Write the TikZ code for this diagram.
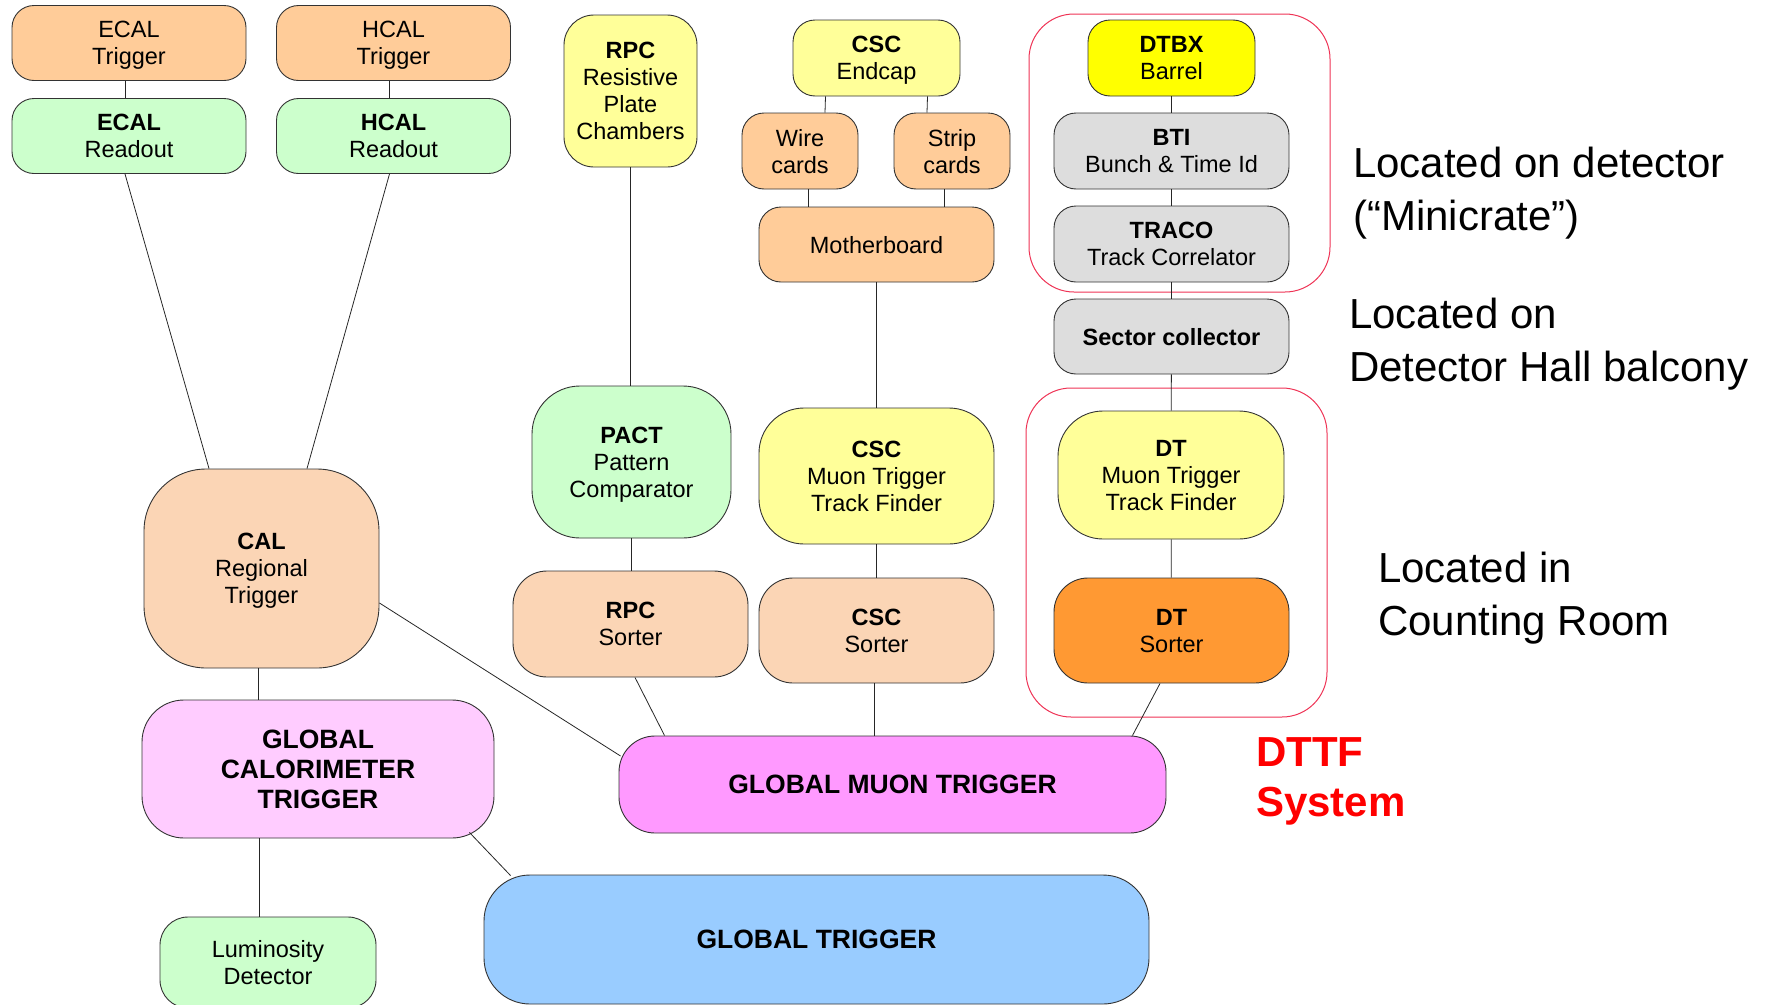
\documentclass[tikz,border=0pt]{standalone}
\usepackage{fontspec}
\setmainfont{Liberation Sans}
\usetikzlibrary{calc}
\definecolor{peach}{HTML}{FFCC99}
\definecolor{lightpeach}{HTML}{FBD5B5}
\definecolor{mint}{HTML}{CCFFCC}
\definecolor{paleyellow}{HTML}{FFFF99}
\definecolor{brightyellow}{HTML}{FFFF00}
\definecolor{lightgrey}{HTML}{DDDDDD}
\definecolor{dtorange}{HTML}{FF9933}
\definecolor{palepink}{HTML}{FFCCFF}
\definecolor{pink}{HTML}{FF99FF}
\definecolor{skyblue}{HTML}{99CCFF}
\definecolor{framered}{HTML}{EE3355}
\begin{document}
\begin{tikzpicture}[x=1pt, y=-1pt,
    box/.style={draw=black!80, line width=0.9pt, rounded corners=22pt,
        align=center, inner sep=0pt, text depth=0pt,
        font=\fontsize{23.5}{27}\selectfont},
    big/.style={font=\fontsize{26.5}{30}\selectfont\bfseries},
    frame/.style={draw=framered, line width=1pt, rounded corners=45pt,
        inner sep=0pt},
    place/.style={anchor=west, align=left, inner sep=0pt,
        font=\fontsize{42}{53}\selectfont},
    link/.style={draw=black!85, line width=0.8pt}]
    \useasboundingbox (0,0) rectangle (1777,1004);

    % frames
    \node[frame, minimum width=301pt, minimum height=278pt] (detframe) at (1179.5,153) {};
    \node[frame, minimum width=301pt, minimum height=329pt] (roomframe) at (1176.5,552.5) {};

    % calorimeter
    \node[box, fill=peach, minimum width=234pt, minimum height=75pt] (ecaltrig) at (129,43) {ECAL\\Trigger};
    \node[box, fill=mint, minimum width=234pt, minimum height=75pt] (ecalro) at (129,136) {\textbf{ECAL}\\Readout};
    \node[box, fill=peach, minimum width=234pt, minimum height=75pt] (hcaltrig) at (393.5,43) {HCAL\\Trigger};
    \node[box, fill=mint, minimum width=234pt, minimum height=75pt] (hcalro) at (393.5,136) {\textbf{HCAL}\\Readout};
    \node[box, fill=lightpeach, rounded corners=62pt, minimum width=235pt, minimum height=199pt] (calreg) at (261.5,568.5) {\textbf{CAL}\\Regional\\Trigger};
    \node[box, big, fill=palepink, rounded corners=42pt, minimum width=352pt, minimum height=138pt] (gct) at (318,769) {GLOBAL\\CALORIMETER\\TRIGGER};
    \node[box, fill=mint, rounded corners=28pt, minimum width=216pt, minimum height=91pt] (lumi) at (268,962.5) {Luminosity\\Detector};

    % RPC
    \node[box, fill=paleyellow, rounded corners=30pt, minimum width=133pt, minimum height=152pt] (rpcch) at (630.5,91) {\textbf{RPC}\\Resistive\\Plate\\Chambers};
    \node[box, fill=mint, rounded corners=48pt, minimum width=199pt, minimum height=152pt] (pact) at (631.5,462) {\textbf{PACT}\\Pattern\\Comparator};
    \node[box, fill=lightpeach, rounded corners=34pt, minimum width=235pt, minimum height=106pt] (rpcsort) at (630.5,624) {\textbf{RPC}\\Sorter};

    % CSC
    \node[box, fill=paleyellow, minimum width=167pt, minimum height=76pt] (cscend) at (876.5,58) {\textbf{CSC}\\Endcap};
    \node[box, fill=peach, minimum width=116pt, minimum height=76pt] (wire) at (800,151) {Wire\\cards};
    \node[box, fill=peach, minimum width=116pt, minimum height=76pt] (strip) at (952,151) {Strip\\cards};
    \node[box, fill=peach, minimum width=235pt, minimum height=75pt] (mother) at (876.5,244.5) {Motherboard};
    \node[box, fill=paleyellow, rounded corners=45pt, minimum width=235pt, minimum height=136pt] (csctf) at (876.5,476) {\textbf{CSC}\\Muon Trigger\\Track Finder};
    \node[box, fill=lightpeach, rounded corners=34pt, minimum width=235pt, minimum height=105pt] (cscsort) at (876.5,630.5) {\textbf{CSC}\\Sorter};

    % DT
    \node[box, fill=brightyellow, minimum width=167pt, minimum height=76pt] (dtbx) at (1171.5,58) {\textbf{DTBX}\\Barrel};
    \node[box, fill=lightgrey, minimum width=235pt, minimum height=76pt] (bti) at (1171.5,151) {\textbf{BTI}\\Bunch \& Time Id};
    \node[box, fill=lightgrey, minimum width=235pt, minimum height=76pt] (traco) at (1171.5,244) {\textbf{TRACO}\\Track Correlator};
    \node[box, fill=lightgrey, minimum width=235pt, minimum height=75pt] (sector) at (1171.5,336.5) {\textbf{Sector collector}};
    \node[box, fill=paleyellow, rounded corners=45pt, minimum width=226pt, minimum height=128pt] (dttf) at (1171,475) {\textbf{DT}\\Muon Trigger\\Track Finder};
    \node[box, fill=dtorange, rounded corners=34pt, minimum width=235pt, minimum height=105pt] (dtsort) at (1171.5,630.5) {\textbf{DT}\\Sorter};

    % global
    \node[box, big, fill=pink, rounded corners=36pt, minimum width=547pt, minimum height=97pt] (gmt) at (892.5,784.5) {GLOBAL MUON TRIGGER};
    \node[box, big, fill=skyblue, rounded corners=46pt, minimum width=665pt, minimum height=129pt] (gt) at (816.5,939.5) {GLOBAL TRIGGER};

    % labels
    \node[place] (ondet) at (1353,193) {Located on detector\\(“Minicrate”)};
    \node[place] (onbalc) at (1349,344.5) {Located on\\Detector Hall balcony};
    \node[place] (inroom) at (1378,598.5) {Located in\\Counting Room};
    \node[place, text=red, font=\fontsize{42}{50}\selectfont\bfseries] (dttfsys) at (1256,781) {DTTF\\System};

    % connections
    \draw[link] ($(ecaltrig.south)+(-4,0)$) -- ($(ecalro.north)+(-4,0)$);
    \draw[link] ($(hcaltrig.south)+(-4,0)$) -- ($(hcalro.north)+(-4,0)$);
    \draw[link] ($(ecalro.south)+(-4,0)$) -- ($(calreg.north)+(-52.5,0)$);
    \draw[link] ($(hcalro.south)+(-4,0)$) -- ($(calreg.north)+(45.5,0)$);
    \draw[link] ($(calreg.south)+(-3.5,0)$) -- ($(gct.north)+(-60,0)$);
    \draw[link] ($(gct.south)+(-59,0)$) -- ($(lumi.north)+(-9,0)$);
    \draw[link] ($(gct.south east)+(-25,-6)$) -- ($(gt.north west)+(27,1)$);
    \draw[link] ($(calreg.east)+(0,34.5)$) -- ($(gmt.west)+(2,-28.5)$);

    \draw[link] (rpcch.south) -- (rpcch.south |- pact.north);
    \draw[link] (pact.south) -- (pact.south |- rpcsort.north);
    \draw[link] ($(rpcsort.south)+(4.5,0)$) -- ($(gmt.north west)+(46,0)$);

    \draw[link] ($(cscend.south)+(-51,0)$) -- ($(wire.north)+(25,0)$);
    \draw[link] ($(cscend.south)+(51,0)$) -- ($(strip.north)+(-25,0)$);
    \draw[link] ($(wire.south)+(8,0)$) -- ($(mother.north)+(-68.5,0)$);
    \draw[link] ($(strip.south)+(-8,0)$) -- ($(mother.north)+(67.5,0)$);
    \draw[link] (mother) -- (csctf);
    \draw[link] (csctf) -- (cscsort);
    \draw[link] ($(cscsort.south)+(-2.5,0)$) -- ($(gmt.north)+(-18.5,0)$);

    \draw[link] (dtbx) -- (bti);
    \draw[link] (bti) -- (traco);
    \draw[link] (traco) -- (sector);
    \draw[link] (sector) -- (dttf);
    \draw[link] (dttf) -- (dtsort);
    \draw[link] ($(dtsort.south)+(-11.5,0)$) -- ($(gmt.north east)+(-34,0)$);

\end{tikzpicture}
\end{document}
